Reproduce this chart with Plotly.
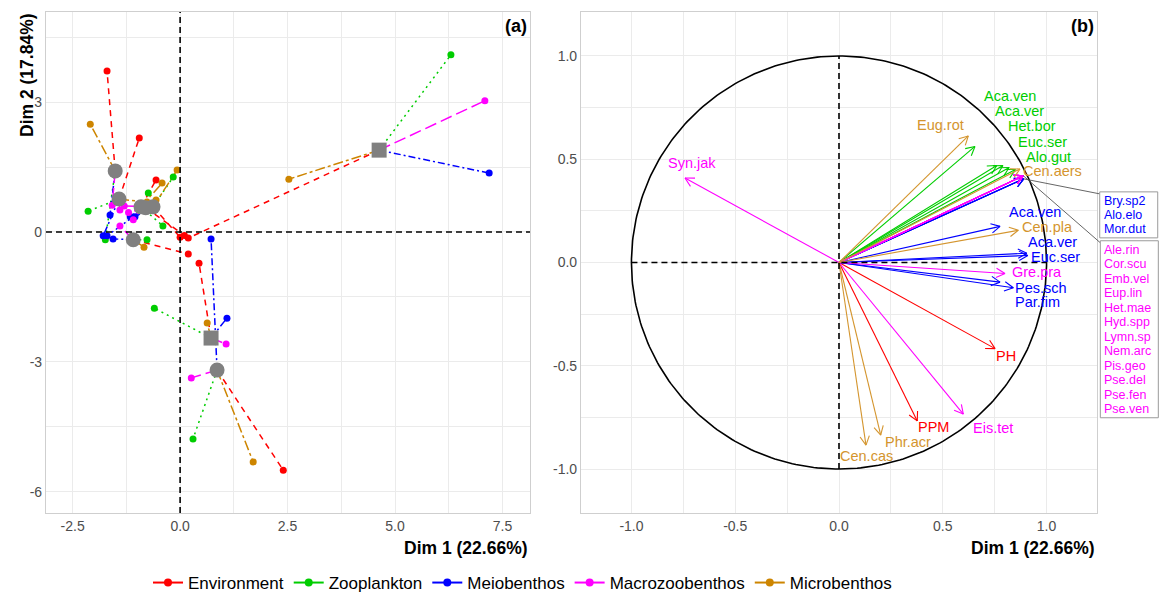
import math
import numpy as np
import plotly.graph_objects as go

W, H = 1160, 595
FONT = "Liberation Sans, Arial, sans-serif"

# ---------------- data: panel (a) partial individuals ----------------
GROUPS = ["Environment", "Zooplankton", "Meiobenthos", "Macrozoobenthos", "Microbenthos"]

ind_x = [4.63, 0.72, 0.86, -1.51, -1.42, -0.91, -0.63, -1.09, -0.80]
ind_y = [1.89, -2.45, -3.19, 1.41, 0.76, 0.58, 0.58, -0.18, 0.56]
ind_shape = ["square", "square", "circle", "circle", "circle", "circle", "circle", "circle", "circle"]

env_x = [0.19, 0.44, 2.40, -1.70, -0.95, -0.56, 0.00, 0.19, 0.10]
env_y = [-0.14, -0.72, -5.50, 3.72, 2.17, 1.20, -0.12, -0.51, -0.08]
zoo_x = [6.30, -0.60, 0.30, -1.74, -2.14, -0.40, -0.16, -0.77, -0.74]
zoo_y = [4.09, -1.76, -4.78, -0.18, 0.48, 0.14, 1.27, -0.18, 0.90]
meio_x = [7.19, 1.09, 0.72, -1.63, -1.79, -1.16, -1.05, -1.56, -1.70]
meio_y = [1.36, -1.99, -0.16, 0.39, -0.09, 0.35, 0.35, -0.16, -0.09]
macro_x = [7.09, 1.07, 0.26, -1.58, -1.40, -1.09, -1.30, -1.40, -1.20]
macro_y = [3.03, -2.59, -3.37, 0.62, 0.51, 0.28, 0.60, 0.14, 0.45]
micro_x = [2.53, 0.63, 1.70, -2.09, -0.77, -0.42, -0.07, -0.84, -0.56]
micro_y = [1.22, -2.10, -5.31, 2.49, 0.69, 1.13, 1.43, -0.35, 0.74]

partial = {
    "Environment": (env_x, env_y),
    "Zooplankton": (zoo_x, zoo_y),
    "Meiobenthos": (meio_x, meio_y),
    "Macrozoobenthos": (macro_x, macro_y),
    "Microbenthos": (micro_x, micro_y),
}

# ---------------- data: panel (b) variable correlations ----------------
var_names = ["PH", "PPM",
             "Aca.ven", "Aca.ver", "Het.bor", "Euc.ser", "Alo.gut",
             "Aca.ven", "Aca.ver", "Euc.ser", "Pes.sch", "Par.fim",
             "Syn.jak", "Gre.pra", "Eis.tet",
             "Eug.rot", "Cen.aers", "Cen.pla", "Phr.acr", "Cen.cas"]
var_group = ["Environment", "Environment",
             "Zooplankton", "Zooplankton", "Zooplankton", "Zooplankton", "Zooplankton",
             "Meiobenthos", "Meiobenthos", "Meiobenthos", "Meiobenthos", "Meiobenthos",
             "Macrozoobenthos", "Macrozoobenthos", "Macrozoobenthos",
             "Microbenthos", "Microbenthos", "Microbenthos", "Microbenthos", "Microbenthos"]
var_dim1 = [0.752, 0.377,
            0.655, 0.760, 0.790, 0.820, 0.850,
            0.776, 0.905, 0.910, 0.840, 0.776,
            -0.742, 0.800, 0.599,
            0.623, 0.872, 0.864, 0.201, 0.130]
var_dim2 = [-0.417, -0.767,
            0.562, 0.470, 0.470, 0.460, 0.450,
            0.175, 0.045, 0.034, -0.122, -0.095,
            0.409, -0.053, -0.734,
            0.613, 0.453, 0.156, -0.836, -0.884]

# variables sharing identical coordinates (stacked labels)
box_meio_names = ["Bry.sp2", "Alo.elo", "Mor.dut"]
box_meio_dim = (0.890, 0.405)
box_macro_names = ["Ale.rin", "Cor.scu", "Emb.vel", "Eup.lin", "Het.mae", "Hyd.spp",
                   "Lymn.sp", "Nem.arc", "Pis.geo", "Pse.del", "Pse.fen", "Pse.ven"]
box_macro_dim = (0.888, 0.420)

# ---------------- styles / layout constants ----------------
COLORS = {"Environment": "#FF0000", "Zooplankton": "#00CD00", "Meiobenthos": "#0000FF",
          "Macrozoobenthos": "#FF00FF", "Microbenthos": "#CD8500"}
TEXTCOL = dict(COLORS)
TEXTCOL["Microbenthos"] = "#D4952E"
DASHES = {"Environment": "6px,5px", "Zooplankton": "2px,4px", "Meiobenthos": "7px,3px,2px,3px",
          "Macrozoobenthos": "12px,5px", "Microbenthos": "10px,3px,3px,3px"}

# label nudges in pixels (dx right, dy up) relative to arrow tip
NUDGE = {("PH", "Environment"): (11, -7), ("PPM", "Environment"): (16, -6),
         ("Aca.ven", "Zooplankton"): (35, 50), ("Aca.ver", "Zooplankton"): (23, 54),
         ("Het.bor", "Zooplankton"): (29, 39), ("Euc.ser", "Zooplankton"): (33, 26),
         ("Alo.gut", "Zooplankton"): (33, 13),
         ("Aca.ven", "Meiobenthos"): (35, 14), ("Aca.ver", "Meiobenthos"): (26, 11),
         ("Euc.ser", "Meiobenthos"): (28, -2), ("Pes.sch", "Meiobenthos"): (28, 0),
         ("Par.fim", "Meiobenthos"): (37, -20),
         ("Syn.jak", "Macrozoobenthos"): (7, 15), ("Gre.pra", "Macrozoobenthos"): (32, 1),
         ("Eis.tet", "Macrozoobenthos"): (30, -14),
         ("Eug.rot", "Microbenthos"): (-28, 11), ("Cen.aers", "Microbenthos"): (33, -2),
         ("Cen.pla", "Microbenthos"): (29, 3), ("Phr.acr", "Microbenthos"): (27, -7),
         ("Cen.cas", "Microbenthos"): (1, -11)}

# stacked-label boxes: pixel offsets (left, right, top, bottom) from the arrow tip
BOX_OFF = {"Meiobenthos": (76, 134, 13, 59), "Macrozoobenthos": (77, 135, 65, 242)}

XA_DOM = [46 / W, 530 / W]
XB_DOM = [581 / W, 1097 / W]
Y_DOM = [1 - 513 / H, 1 - 12 / H]
XA_RANGE = [-3.12, 8.14]
YA_RANGE = [-6.49, 5.08]
XB_RANGE = [-1.243, 1.243]
YB_RANGE = [-1.213, 1.213]

fig = go.Figure()

# ---------------- panel (a) ----------------
for g in GROUPS:
    px_, py_ = partial[g]
    lx, ly = [], []
    for cx, cy, x, y in zip(ind_x, ind_y, px_, py_):
        lx += [cx, x, None]
        ly += [cy, y, None]
    fig.add_trace(go.Scatter(x=lx, y=ly, mode="lines", xaxis="x", yaxis="y",
                             line=dict(color=COLORS[g], width=1.5, dash=DASHES[g]),
                             showlegend=False, hoverinfo="skip"))
for g in GROUPS:
    px_, py_ = partial[g]
    fig.add_trace(go.Scatter(x=px_, y=py_, mode="markers", xaxis="x", yaxis="y",
                             marker=dict(color=COLORS[g], size=7), showlegend=False))
fig.add_trace(go.Scatter(x=ind_x, y=ind_y, mode="markers", xaxis="x", yaxis="y",
                         marker=dict(color="#808080", size=15, symbol=ind_shape),
                         showlegend=False))

# ---------------- panel (b) ----------------
theta = np.linspace(0, 2 * np.pi, 361)
fig.add_trace(go.Scatter(x=np.cos(theta), y=np.sin(theta), mode="lines", xaxis="x2", yaxis="y2",
                         line=dict(color="black", width=1.6), showlegend=False, hoverinfo="skip"))

sx = (XB_DOM[1] - XB_DOM[0]) * W / (XB_RANGE[1] - XB_RANGE[0])
sy = (Y_DOM[1] - Y_DOM[0]) * H / (YB_RANGE[1] - YB_RANGE[0])


def to_px(x, y):
    """data coords of panel (b) -> figure pixels from top-left"""
    px = XB_DOM[0] * W + (x - XB_RANGE[0]) * sx
    py = (1 - Y_DOM[0]) * H - (y - YB_RANGE[0]) * sy
    return px, py


def arrow_xy(x, y, head_px=10, ang=28):
    a = math.atan2(y * sy, x * sx)
    xs, ys = [0, x, None], [0, y, None]
    for s in (1, -1):
        b = a + s * math.radians(ang)
        xs += [x - head_px * math.cos(b) / sx, x, None]
        ys += [y - head_px * math.sin(b) / sy, y, None]
    return xs, ys


all_vars = list(zip(var_names, var_group, var_dim1, var_dim2))
all_vars += [(n, "Meiobenthos", box_meio_dim[0], box_meio_dim[1]) for n in box_meio_names]
all_vars += [(n, "Macrozoobenthos", box_macro_dim[0], box_macro_dim[1]) for n in box_macro_names]

for g in GROUPS:
    xs, ys = [], []
    for n, gg, x, y in all_vars:
        if gg != g:
            continue
        ax_, ay_ = arrow_xy(x, y)
        xs += ax_
        ys += ay_
    fig.add_trace(go.Scatter(x=xs, y=ys, mode="lines", xaxis="x2", yaxis="y2",
                             line=dict(color=TEXTCOL[g], width=1.1),
                             showlegend=False, hoverinfo="skip"))

annotations = []
shapes = []
for n, g, x, y in zip(var_names, var_group, var_dim1, var_dim2):
    dx, dy = NUDGE[(n, g)]
    annotations.append(dict(x=x, y=y, xref="x2", yref="y2", text=n, showarrow=False,
                            xshift=dx, yshift=dy, borderpad=0,
                            font=dict(family=FONT, size=14.5, color=TEXTCOL[g])))

for names, dim, g in [(box_meio_names, box_meio_dim, "Meiobenthos"),
                      (box_macro_names, box_macro_dim, "Macrozoobenthos")]:
    tx, ty = to_px(*dim)
    l, r, t, b = BOX_OFF[g]
    bl, br, bt, bb = tx + l, tx + r, ty + t, ty + b
    # pointer segment from arrow tip to the box
    shapes.append(dict(type="line", xref="paper", yref="paper",
                       x0=tx / W, y0=1 - ty / H, x1=bl / W, y1=1 - (bt + 2) / H,
                       line=dict(color="#555555", width=0.9)))
    shapes.append(dict(type="rect", xref="paper", yref="paper",
                       x0=bl / W, x1=br / W, y0=1 - bb / H, y1=1 - bt / H,
                       line=dict(color="#9A9A9A", width=1), fillcolor="white", layer="above"))
    step = (bb - bt - 3) / len(names)
    for i, n in enumerate(names):
        yc = bt + 1.5 + (i + 0.5) * step
        annotations.append(dict(x=(bl + 3) / W, y=1 - yc / H, xref="paper", yref="paper",
                                text=n, showarrow=False, xanchor="left", yanchor="middle",
                                borderpad=0,
                                font=dict(family=FONT, size=12.5, color=TEXTCOL[g])))

# ---------------- reference lines ----------------
shapes += [
    dict(type="line", xref="x", yref="y domain", x0=0, x1=0, y0=0, y1=1,
         line=dict(color="black", width=1.6, dash="6px,4px")),
    dict(type="line", xref="x domain", yref="y", x0=0, x1=1, y0=0, y1=0,
         line=dict(color="black", width=1.6, dash="6px,4px")),
    dict(type="line", xref="x2", yref="y2", x0=0, x1=0, y0=-1, y1=1,
         line=dict(color="black", width=1.6, dash="6px,4px")),
    dict(type="line", xref="x2", yref="y2", x0=-1, x1=1, y0=0, y1=0,
         line=dict(color="black", width=1.6, dash="6px,4px")),
]

# ---------------- legend (keys) ----------------
for g in GROUPS:
    fig.add_trace(go.Scatter(x=[None], y=[None], mode="lines+markers", xaxis="x", yaxis="y",
                             name=g, line=dict(color=COLORS[g], width=2),
                             marker=dict(color=COLORS[g], size=8), showlegend=True))

# ---------------- titles / panel tags ----------------
title_font = dict(family=FONT, size=17.5, color="black")
annotations += [
    dict(x=XA_DOM[1], y=1 - 548 / H, xref="paper", yref="paper", text="<b>Dim 1 (22.66%)</b>",
         showarrow=False, xanchor="right", yanchor="middle", font=title_font),
    dict(x=XB_DOM[1], y=1 - 548 / H, xref="paper", yref="paper", text="<b>Dim 1 (22.66%)</b>",
         showarrow=False, xanchor="right", yanchor="middle", font=title_font),
    dict(x=27 / W, y=1 - 75 / H, xref="paper", yref="paper", text="<b>Dim 2 (17.84%)</b>",
         showarrow=False, textangle=-90, xanchor="center", yanchor="middle", font=title_font),
    dict(x=516 / W, y=1 - 26 / H, xref="paper", yref="paper", text="<b>(a)</b>",
         showarrow=False, xanchor="center", yanchor="middle", font=dict(family=FONT, size=18, color="black")),
    dict(x=1082 / W, y=1 - 26 / H, xref="paper", yref="paper", text="<b>(b)</b>",
         showarrow=False, xanchor="center", yanchor="middle", font=dict(family=FONT, size=18, color="black")),
]

GRID = "#EBEBEB"
BORDER = "#CFCFCF"
tickfont = dict(family=FONT, size=14, color="#4D4D4D")
common = dict(showgrid=True, gridcolor=GRID, gridwidth=1.1, zeroline=False, showline=True,
              linecolor=BORDER, linewidth=1.2, mirror=True, ticks="", tickfont=tickfont)

fig.update_layout(
    width=W, height=H, margin=dict(l=0, r=0, t=0, b=0, autoexpand=False),
    paper_bgcolor="white", plot_bgcolor="white",
    font=dict(family=FONT),
    xaxis=dict(domain=XA_DOM, range=XA_RANGE, anchor="y",
               tickvals=[-2.5, 0, 2.5, 5, 7.5], ticktext=["-2.5", "0.0", "2.5", "5.0", "7.5"],
               minor=dict(tickvals=[-1.25, 1.25, 3.75, 6.25], showgrid=True, gridcolor=GRID, gridwidth=0.6),
               **common),
    yaxis=dict(domain=Y_DOM, range=YA_RANGE, anchor="x",
               tickvals=[-6, -3, 0, 3], ticktext=["-6", "-3", "0", "3"],
               minor=dict(tickvals=[-4.5, -1.5, 1.5, 4.5], showgrid=True, gridcolor=GRID, gridwidth=0.6),
               **common),
    xaxis2=dict(domain=XB_DOM, range=XB_RANGE, anchor="y2",
                tickvals=[-1, -0.5, 0, 0.5, 1], ticktext=["-1.0", "-0.5", "0.0", "0.5", "1.0"],
                minor=dict(tickvals=[-0.75, -0.25, 0.25, 0.75], showgrid=True, gridcolor=GRID, gridwidth=0.6),
                **common),
    yaxis2=dict(domain=Y_DOM, range=YB_RANGE, anchor="x2",
                tickvals=[-1, -0.5, 0, 0.5, 1], ticktext=["-1.0", "-0.5", "0.0", "0.5", "1.0"],
                minor=dict(tickvals=[-0.75, -0.25, 0.25, 0.75], showgrid=True, gridcolor=GRID, gridwidth=0.6),
                **common),
    legend=dict(orientation="h", x=148 / W, xanchor="left", y=12 / H, yanchor="middle",
                yref="container", xref="container",
                font=dict(family=FONT, size=17, color="black"), bgcolor="rgba(0,0,0,0)",
                itemwidth=30, tracegroupgap=0),
    shapes=shapes,
    annotations=annotations,
)

fig.write_html("out.html", config={"displayModeBar": False},
               post_script="document.body.style.margin='0';document.body.style.overflow='hidden';")
